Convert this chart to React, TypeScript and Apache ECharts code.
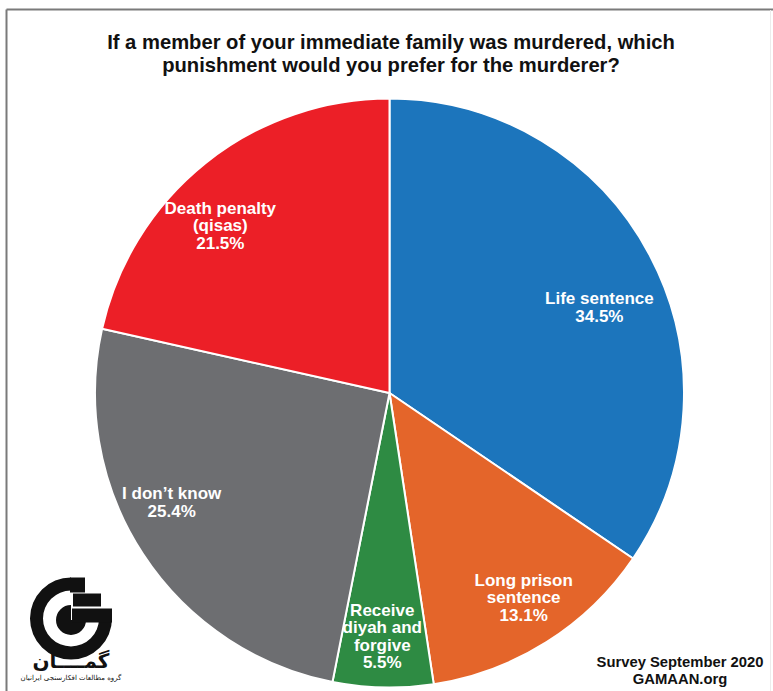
import React, { useEffect, useRef } from "react";
import * as echarts from "echarts";

const categories = [
  "Life sentence",
  "Long prison sentence",
  "Receive diyah and forgive",
  "I don’t know",
  "Death penalty (qisas)",
];
const labelNames = [
  "Life sentence",
  "Long prison\nsentence",
  "Receive\ndiyah and\nforgive",
  "I don’t know",
  "Death penalty\n(qisas)",
];
const values = [34.5, 13.1, 5.5, 25.4, 21.5];
const colors = ["#1C75BC", "#E4652A", "#2E8B43", "#6D6E71", "#EC1F27"];

const titleLines = [
  "If a member of your immediate family was murdered, which",
  "punishment would you prefer for the murderer?",
];
const footerLines = ["Survey September 2020", "GAMAAN.org"];
const logoName = "گمــــان";
const logoSub = "گروه مطالعات افکارسنجی ایرانیان";

// layout only (label nudges in px, not data)
const labelNudges = [
  [-1, 26],
  [7, 3],
  [-2, 5],
  [-18, -21],
  [-20, 19],
];

const W = 773;
const H = 691;
const CX = 389.5;
const CY = 393;
const R = 294.5;

export default function App() {
  const ref = useRef<HTMLDivElement>(null);
  useEffect(() => {
    if (!ref.current) return;
    const chart = echarts.init(ref.current, null, { renderer: "svg" });
    const font = "'Liberation Sans', Arial, Helvetica, sans-serif";
    const ink = "#111111";
    chart.setOption({
      animation: false,
      backgroundColor: "#ffffff",
      series: [
        {
          type: "pie",
          center: [CX, CY],
          radius: [0, R],
          startAngle: 90,
          clockwise: true,
          silent: true,
          label: { show: false },
          labelLine: { show: false },
          itemStyle: { borderColor: "#ffffff", borderWidth: 2 },
          data: values.map((v, i) => ({
            name: categories[i],
            value: v,
            itemStyle: { color: colors[i] },
          })),
        },
        {
          type: "pie",
          center: [CX, CY],
          radius: [R * 0.6, R],
          startAngle: 90,
          clockwise: true,
          silent: true,
          z: 5,
          itemStyle: { color: "rgba(0,0,0,0)", borderWidth: 0 },
          labelLine: { show: false },
          label: {
            show: true,
            position: "inside",
            color: "#ffffff",
            fontFamily: font,
            fontWeight: "bold",
            fontSize: 17,
            lineHeight: 17.5,
            align: "center",
            formatter: (p: any) =>
              labelNames[p.dataIndex] + "\n" + Number(p.value).toFixed(1) + "%",
          },
          data: values.map((v, i) => ({
            name: categories[i],
            value: v,
            label: { offset: labelNudges[i] },
          })),
        },
      ],
      graphic: [
        // title
        {
          type: "text",
          x: 391,
          y: 30,
          style: {
            text: titleLines.join("\n"),
            fontFamily: font,
            fontWeight: "bold",
            fontSize: 20.2,
            lineHeight: 23,
            fill: ink,
            align: "center",
            verticalAlign: "top",
          },
        },
        // frame
        {
          type: "line",
          shape: { x1: 6.5, y1: 9.5, x2: W, y2: 9.5 },
          style: { stroke: "#7a7a7a", lineWidth: 2 },
        },
        {
          type: "line",
          shape: { x1: 6.5, y1: 9.5, x2: 6.5, y2: H },
          style: { stroke: "#7a7a7a", lineWidth: 2 },
        },
        {
          type: "line",
          shape: { x1: 770.5, y1: 10, x2: 770.5, y2: H },
          style: { stroke: "#ececec", lineWidth: 1 },
        },
        // footer
        {
          type: "text",
          x: 680,
          y: 654,
          style: {
            text: footerLines.join("\n"),
            fontFamily: font,
            fontWeight: "bold",
            fontSize: 14.8,
            lineHeight: 16.5,
            fill: ink,
            align: "center",
            verticalAlign: "top",
          },
        },
        // logo
        {
          type: "group",
          children: [
            {
              type: "sector",
              shape: {
                cx: 71,
                cy: 618.5,
                r0: 28,
                r: 41,
                startAngle: 0,
                endAngle: Math.PI * 1.5,
                clockwise: true,
              },
              style: { fill: ink },
            },
            {
              type: "sector",
              shape: {
                cx: 71,
                cy: 620,
                r0: 0,
                r: 15,
                startAngle: 0,
                endAngle: Math.PI * 1.5,
                clockwise: true,
              },
              style: { fill: ink },
            },
            {
              type: "rect",
              shape: { x: 70, y: 577.5, width: 15, height: 15 },
              style: { fill: ink },
            },
            {
              type: "rect",
              shape: { x: 73, y: 593.5, width: 28, height: 13 },
              style: { fill: ink },
            },
            {
              type: "rect",
              shape: { x: 72, y: 608.5, width: 40, height: 14 },
              style: { fill: ink },
            },
            {
              type: "text",
              x: 71,
              y: 661,
              style: {
                text: logoName,
                fontFamily: "'DejaVu Sans', sans-serif",
                fontWeight: "bold",
                fontSize: 20,
                fill: ink,
                align: "center",
                verticalAlign: "middle",
              },
            },
            {
              type: "text",
              x: 71,
              y: 678,
              style: {
                text: logoSub,
                fontFamily: "'DejaVu Sans', sans-serif",
                fontSize: 7,
                fill: ink,
                align: "center",
                verticalAlign: "middle",
              },
            },
          ],
        },
      ],
    });
    return () => chart.dispose();
  }, []);
  return (
    <div
      ref={ref}
      style={{ position: "fixed", left: 0, top: 0, width: W, height: H }}
    />
  );
}
